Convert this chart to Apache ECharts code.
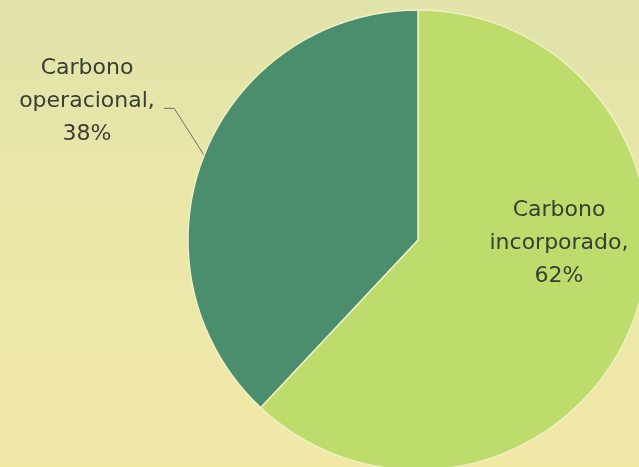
<!DOCTYPE html>
<html>
<head>
<meta charset="utf-8">
<script src="https://cdn.jsdelivr.net/npm/echarts@6/dist/echarts.min.js"></script>
<style>
html,body{margin:0;padding:0;width:639px;height:467px;overflow:hidden;}
#c{width:639px;height:467px;background:linear-gradient(to bottom,#e1e3a9 0%,#ebe7a9 50%,#f1e8a6 100%);}
</style>
</head>
<body>
<div id="c"></div>
<script>
const categories = ['Carbono incorporado', 'Carbono operacional'];
const labelTexts = ['Carbono\nincorporado,\n62%', 'Carbono\noperacional,\n38%'];
const values = [62, 38];
const colors = ['#bedc6c', '#4a8e6e'];

const chart = echarts.init(document.getElementById('c'), null, {renderer: 'canvas'});
const data = categories.map((name, i) => ({
  name: name,
  value: values[i],
  itemStyle: {color: colors[i]},
  label: i === 0
    ? {formatter: labelTexts[i], position: 'inside'}
    : {formatter: labelTexts[i], position: 'outside'},
  labelLine: {show: i !== 0}
}));

chart.setOption({
  backgroundColor: 'transparent',
  animation: false,
  series: [{
    type: 'pie',
    center: [418, 240],
    radius: [0, 230],
    startAngle: 90,
    clockwise: true,
    data: data,
    itemStyle: {borderColor: '#eef0c4', borderWidth: 1.5},
    label: {
      show: true,
      fontFamily: 'DejaVu Sans',
      fontSize: 22,
      lineHeight: 33,
      color: '#3a3d32',
      align: 'center'
    },
    labelLine: {
      show: true,
      lineStyle: {color: '#6e6e5e', width: 1}
    },
    emphasis: {disabled: true},
    labelLayout: function (params) {
      if (params.dataIndex === 0) {
        return {x: 559, y: 243, align: 'center', verticalAlign: 'middle'};
      }
      const p0 = params.labelLinePoints ? params.labelLinePoints[0] : [204, 155];
      return {
        x: 87, y: 101, align: 'center', verticalAlign: 'middle',
        labelLinePoints: [p0, [p0[0] - 30, p0[1] - 47], [p0[0] - 40, p0[1] - 47]]
      };
    }
  }]
});
</script>
</body>
</html>
